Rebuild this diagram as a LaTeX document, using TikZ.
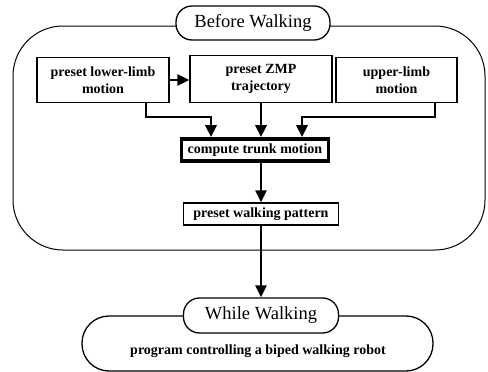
\documentclass[tikz,border=0pt]{standalone}
\usepackage{fontspec}
\setmainfont{Liberation Serif}
\usetikzlibrary{arrows.meta}
\begin{document}
\begin{tikzpicture}[x=1pt,y=-1pt,
  box/.style={draw, line width=1.3pt, align=center, inner sep=0pt,
    font=\fontsize{14}{16.5}\selectfont\bfseries},
  pill/.style={draw, line width=1.3pt, fill=white, inner sep=0pt,
    font=\fontsize{18.5}{20}\selectfont},
  arr/.style={line width=2.7pt, -{Triangle[length=12pt,width=11pt]}},
  lbl/.style={inner sep=0pt, font=\fontsize{14}{16.5}\selectfont\bfseries}]
\useasboundingbox (0,0) rectangle (488,372);
% outer "before walking" region
\node[draw, line width=1pt, rounded corners=50pt, minimum width=472pt,
  minimum height=224pt, inner sep=0pt] (outer) at (249,138) {};
\node[pill, rounded corners=16pt, minimum width=154pt, minimum height=34pt]
  (bw) at (253,23) {Before Walking};
% boxes
\node[box, minimum width=132pt, minimum height=45pt] (b1) at (103,80)
  {preset lower-limb\\motion};
\node[box, minimum width=142pt, minimum height=47pt] (b2) at (261,79)
  {preset ZMP\\trajectory};
\node[box, minimum width=121pt, minimum height=45pt] (b3) at (396.5,80)
  {upper-limb\\motion};
\node[box, line width=3.6pt, minimum width=147pt, minimum height=22pt]
  (comp) at (255,150) {compute trunk motion};
\node[box, minimum width=155pt, minimum height=22pt] (pwp) at (261,214)
  {preset walking pattern};
% while walking
\node[draw, line width=1.3pt, rounded corners=27pt, minimum width=351pt,
  minimum height=55pt, inner sep=0pt] (prog) at (257.5,343.5) {};
\node[lbl] (progtext) at (258,351) {program controlling a biped walking robot};
\node[pill, rounded corners=16pt, minimum width=155pt, minimum height=35pt]
  (ww) at (261,315.5) {While Walking};
% connector helpers
\coordinate (l1) at (146,117);
\coordinate (r1) at (435,117);
\coordinate (cl) at (211,0);
\coordinate (cr) at (302,0);
\coordinate (cm) at (261,0);
% connectors
\draw[arr] (b1.east) -- (b1.east -| b2.west);
\draw[arr] (b1.south -| l1) -- (l1) -| (comp.north -| cl);
\draw[arr] (b2.south) -- (b2.south |- comp.north);
\draw[arr] (b3.south -| r1) -- (r1) -| (comp.north -| cr);
\draw[arr] (comp.south -| cm) -- (pwp.north);
\draw[arr] (pwp.south) -- (ww.north);
\end{tikzpicture}
\end{document}
